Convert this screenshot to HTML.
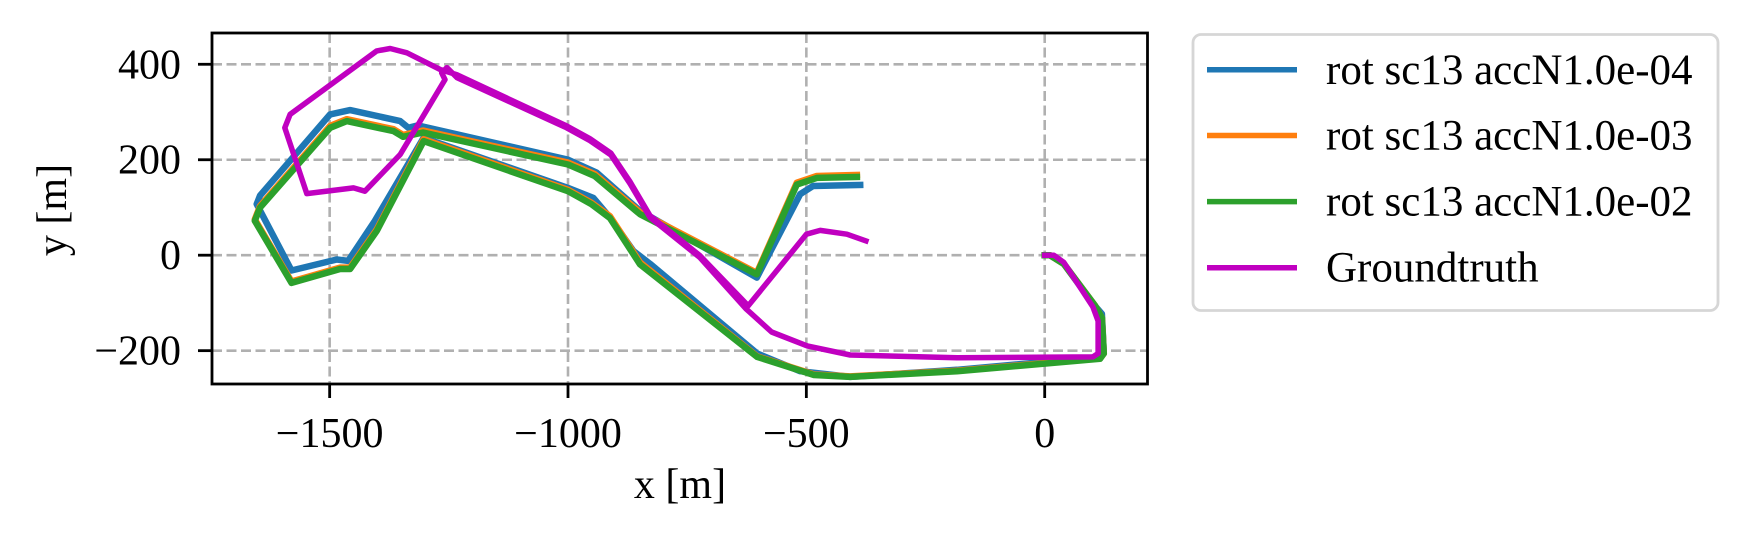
<!DOCTYPE html>
<html><head><meta charset="utf-8">
<style>
html,body{margin:0;padding:0;background:#fff;}
svg{display:block;font-family:"Liberation Serif","DejaVu Serif",serif;}
</style></head>
<body>
<svg id="chart" width="1746" height="541" viewBox="0 0 1746 541" xmlns="http://www.w3.org/2000/svg">
<rect x="0" y="0" width="1746" height="541" fill="#fff"/>
<g id="grid"></g>
<g id="series"></g>
<rect x="212" y="33" width="935.5" height="351" fill="none" stroke="#000" stroke-width="2.8"/>
<g id="ticks"></g>
<text x="680" y="498" font-size="42" text-anchor="middle">x [m]</text>
<text x="0" y="0" font-size="42" text-anchor="middle" transform="translate(66,210) rotate(-90)">y [m]</text>
<g id="legend">
<rect x="1193" y="34.5" width="525" height="276" rx="8" fill="#fff" stroke="#d6d6d6" stroke-width="2.8"/>
</g>
</svg>
<script>
const xTicks=[-1500,-1000,-500,0];
const yTicks=[-200,0,200,400];
const xTickLabels=["\u22121500","\u22121000","\u2212500","0"];
const yTickLabels=["\u2212200","0","200","400"];
const seriesNames=["rot sc13 accN1.0e-04","rot sc13 accN1.0e-03","rot sc13 accN1.0e-02","Groundtruth"];
const seriesColors=["#1f77b4","#ff7f0e","#2ca02c","#c000c0"];
const blueX=[0,11,40,101,120,124,116,-184,-408,-513,-603,-828,-863,-912,-947,-1000,-1303,-1405,-1461,-1485,-1580,-1653,-1646,-1499,-1457,-1352,-1335,-1315,-1000,-940,-849,-604,-513,-486,-387];
const blueY=[0,0,-18,-101,-123,-206,-213,-240,-255,-243,-206,-18,9,79,120,141,246,72,-12,-9,-32,107,125,295,304,281,267,272,200,173,93,-47,128,145,147];
const orangeX=[0,11,40,105,120,124,116,-184,-408,-484,-603,-849,-912,-951,-1000,-1303,-1401,-1457,-1478,-1580,-1657,-1646,-1499,-1464,-1366,-1346,-1304,-1000,-944,-849,-604,-520,-478,-394];
const orangeY=[0,0,-18,-105,-131,-206,-216,-242,-254,-250,-212,-15,82,110,137,243,54,-26,-26,-55,75,103,271,285,264,252,261,194,170,90,-37,152,166,168];
const greenX=[0,11,40,105,120,124,116,-184,-408,-484,-603,-849,-912,-951,-1000,-1303,-1401,-1457,-1478,-1580,-1657,-1646,-1499,-1464,-1366,-1346,-1304,-1000,-944,-849,-604,-520,-478,-394];
const greenY=[0,0,-18,-105,-131,-206,-217,-243,-255,-251,-213,-19,78,107,134,239,51,-29,-29,-58,72,100,267,281,260,248,257,190,166,86,-40,148,162,164];
const gtX=[0,19,40,101,112,112,101,-184,-408,-498,-573,-626,-723,-828,-870,-910,-954,-1003,-1233,-1254,-1265,-1258,-1352,-1426,-1450,-1548,-1594,-1583,-1401,-1373,-1338,-1268,-1233,-1003,-954,-910,-870,-828,-723,-622,-500,-471,-415,-375];
const gtY=[0,0,-15,-108,-138,-206,-213,-215,-209,-190,-161,-113,-5,79,150,210,240,267,372,393,382,368,211,134,141,129,267,295,428,433,424,389,378,271,244,214,154,83,-1,-106,44,52,44,30];

const X0=1044.7,KX=0.4767,Y0=255.2,KY=0.4773;
const L=212,T=33,R=1147.5,B=384;
function sx(v){return X0+KX*v;}
function sy(v){return Y0-KY*v;}
const NS="http://www.w3.org/2000/svg";
function mk(tag,attrs,parent){const e=document.createElementNS(NS,tag);for(const k in attrs)e.setAttribute(k,attrs[k]);parent.appendChild(e);return e;}
const grid=document.getElementById('grid'),ticks=document.getElementById('ticks'),series=document.getElementById('series'),legend=document.getElementById('legend');
xTicks.forEach((v,i)=>{
  const g=mk('line',{x1:sx(v),x2:sx(v),y1:T,y2:B,stroke:'#b0b0b0','stroke-width':2.6,'stroke-dasharray':'10,4.5'},grid);
  
  
  const t=mk('line',{x1:sx(v),x2:sx(v),y1:B,y2:B+14,stroke:'#000','stroke-width':2.8},ticks);
  
  
  const lb=mk('text',{x:sx(v),y:447,'font-size':42,'text-anchor':'middle'},ticks);
  lb.textContent=xTickLabels[i];
  
  
});
yTicks.forEach((v,i)=>{
  const g=mk('line',{x1:L,x2:R,y1:sy(v),y2:sy(v),stroke:'#b0b0b0','stroke-width':2.6,'stroke-dasharray':'10,4.5'},grid);
  
  
  const t=mk('line',{x1:L-14,x2:L,y1:sy(v),y2:sy(v),stroke:'#000','stroke-width':2.8},ticks);
  
  
  const lb=mk('text',{x:181,y:sy(v)+14,'font-size':42,'text-anchor':'end'},ticks);
  lb.textContent=yTickLabels[i];
  
  
});
const data=[[blueX,blueY],[orangeX,orangeY],[greenX,greenY],[gtX,gtY]];
const widths=[6.5,6.5,6.5,5.5];
const names=['series-accn-1e-04','series-accn-1e-03','series-accn-1e-02','series-groundtruth'];
data.forEach((d,i)=>{
  const pts=d[0].map((x,j)=>sx(x).toFixed(1)+','+sy(d[1][j]).toFixed(1)).join(' ');
  const p=mk('polyline',{points:pts,fill:'none',stroke:seriesColors[i],'stroke-width':widths[i],'stroke-linejoin':'round','stroke-linecap':'square'},series);
  
  
});
const rowsY=[69.8,135.5,201.6,267.7];
seriesNames.forEach((n,i)=>{
  const l=mk('line',{x1:1207,x2:1297,y1:rowsY[i],y2:rowsY[i],stroke:seriesColors[i],'stroke-width':5.5},legend);
  
  
  const t=mk('text',{x:1326,y:rowsY[i]+14,'font-size':43},legend);
  t.textContent=n;
  
  
});
</script>
</body></html>
